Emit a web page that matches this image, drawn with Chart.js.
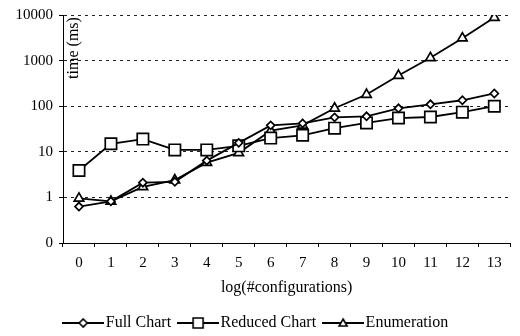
<!DOCTYPE html>
<html>
<head>
<meta charset="utf-8">
<script src="https://cdn.jsdelivr.net/npm/chart.js@4/dist/chart.umd.min.js"></script>
<style>
  html, body { margin: 0; padding: 0; background: #fff; overflow: hidden; }
  #wrap { width: 520px; height: 341px; }
</style>
</head>
<body>
<div id="wrap"><canvas id="lineChart"></canvas></div>
<script>
const xLabels = ['0', '1', '2', '3', '4', '5', '6', '7', '8', '9', '10', '11', '12', '13'];

const fullChart = [0.63, 0.82, 2.1, 2.2, 6.4, 15.7, 38, 42, 57, 60, 90, 110, 135, 190];
const reducedChart = [3.9, 15, 19, 11, 11, 13.5, 20, 23, 33, 43, 55, 58, 74, 100];
const enumeration = [0.95, 0.82, 1.7, 2.4, 5.8, 9.5, 29, 38, 90, 180, 470, 1150, 3100, 8800];

const yTickValues = [0.1, 1, 10, 100, 1000, 10000];
const yTickLabels = ['0', '1', '10', '100', '1000', '10000'];

const serif = '"Liberation Serif", "Times New Roman", serif';

// little line+marker pictures for the legend
function legendIcon(style){
    const c = document.createElement('canvas');
    c.width = 42;
    c.height = 14;
    const g = c.getContext('2d');
    g.strokeStyle = '#000';
    g.lineWidth = 1.8;
    g.beginPath();
    g.moveTo(0, 7);
    g.lineTo(42, 7);
    g.stroke();
    g.fillStyle = '#fff';
    g.lineWidth = 1.6;
    g.beginPath();
    if (style === 'diamond') {
        g.moveTo(21, 3); g.lineTo(25, 7); g.lineTo(21, 11); g.lineTo(17, 7); g.closePath();
    } else if (style === 'square') {
        g.rect(16, 2, 10, 10);
    } else {
        g.moveTo(21, 3); g.lineTo(25, 10); g.lineTo(17, 10); g.closePath();
    }
    g.fill();
    g.stroke();
    return c;
}
const icons = [legendIcon('diamond'), legendIcon('square'), legendIcon('triangle')];

// y axis title sits inside the plot area
const yTitlePlugin = {
    id: 'yTitle',
    afterDraw(chart){
        const {ctx, chartArea} = chart;
        ctx.save();
        ctx.translate(chartArea.left + 11, chartArea.top + 33);
        ctx.rotate(-Math.PI / 2);
        ctx.font = '16px ' + serif;
        ctx.fillStyle = '#000';
        ctx.textAlign = 'center';
        ctx.textBaseline = 'middle';
        ctx.fillText('time (ms)', 0, 0);
        ctx.restore();
    }
};

function lineSet(label, data, style, radius){
    return {
        label: label,
        data: data,
        borderColor: '#000',
        borderWidth: 1.8,
        pointStyle: style,
        pointRadius: radius,
        pointHoverRadius: radius,
        pointBackgroundColor: '#fff',
        pointBorderColor: '#000',
        pointBorderWidth: 1.7,
        fill: false,
        tension: 0
    };
}

new Chart('lineChart', {
    type: 'line',
    data: {
        labels: xLabels,
        datasets: [
            lineSet('Full Chart', fullChart, 'rectRot', 4),
            lineSet('Reduced Chart', reducedChart, 'rect', 8),
            lineSet('Enumeration', enumeration, 'triangle', 5.5)
        ]
    },
    options: {
        responsive: true,
        maintainAspectRatio: false,
        animation: false,
        layout: { padding: { top: 13, right: 3, left: 0, bottom: 0 } },
        scales: {
            x: {
                offset: true,
                afterFit(scale){ scale.height = 59.5; },
                grid: {
                    offset: true,
                    drawOnChartArea: false,
                    drawTicks: true,
                    tickLength: 4,
                    tickColor: '#000',
                    tickWidth: 1
                },
                border: { display: true, color: '#000', width: 1 },
                ticks: {
                    color: '#000',
                    padding: 7,
                    maxRotation: 0,
                    autoSkip: false,
                    font: { family: serif, size: 15 }
                },
                title: {
                    display: true,
                    text: 'log(#configurations)',
                    color: '#000',
                    padding: { top: 0, bottom: 5 },
                    font: { family: serif, size: 16 }
                }
            },
            y: {
                type: 'logarithmic',
                min: 0.1,
                max: 10000,
                afterFit(scale){ scale.width = 63; },
                afterBuildTicks(scale){
                    scale.ticks = yTickValues.map(v => ({ value: v }));
                },
                grid: {
                    color: ctx => (ctx.tick && ctx.tick.value === 0.1) ? 'rgba(0,0,0,0)' : '#222',
                    lineWidth: 1,
                    drawTicks: true,
                    tickLength: 4,
                    tickColor: '#000',
                    tickWidth: 1,
                    tickBorderDash: []
                },
                border: { display: true, color: '#000', width: 1, dash: [3, 4] },
                ticks: {
                    color: '#000',
                    padding: 6,
                    autoSkip: false,
                    font: { family: serif, size: 15 },
                    callback: v => {
                        const i = yTickValues.indexOf(v);
                        return i === -1 ? '' : yTickLabels[i];
                    }
                }
            }
        },
        plugins: {
            legend: {
                display: true,
                position: 'bottom',
                labels: {
                    color: '#000',
                    usePointStyle: true,
                    pointStyleWidth: 29,
                    padding: 12.5,
                    font: { family: serif, size: 16 },
                    generateLabels: chart => {
                        const items = Chart.defaults.plugins.legend.labels.generateLabels(chart);
                        items.forEach((it, i) => { it.pointStyle = icons[i]; });
                        return items;
                    }
                }
            },
            tooltip: { enabled: false },
            title: { display: false }
        }
    },
    plugins: [yTitlePlugin]
});
</script>
</body>
</html>
